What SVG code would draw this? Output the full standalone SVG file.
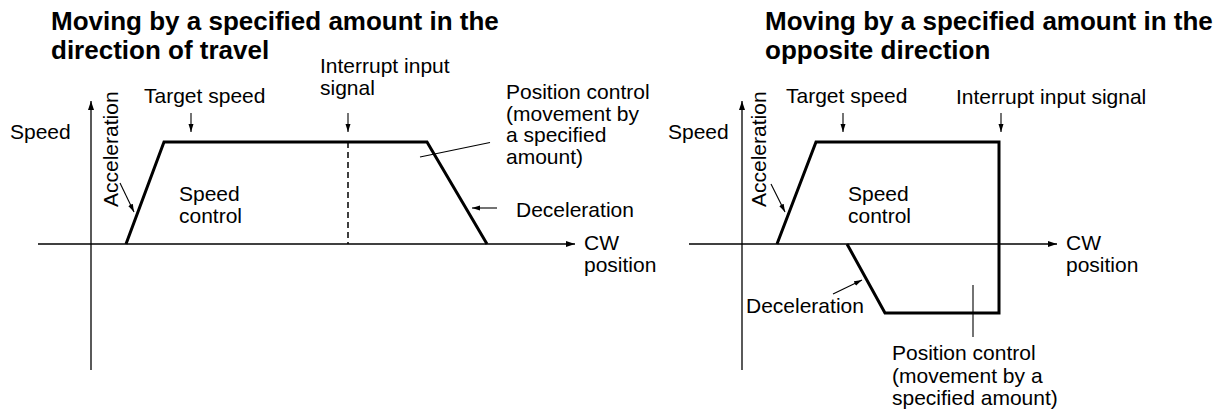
<svg xmlns="http://www.w3.org/2000/svg" width="1227" height="410" viewBox="0 0 1227 410">
<style>
text{font-family:"Liberation Sans",Arial,Helvetica,sans-serif;fill:#000}
.t{font-size:26px;font-weight:bold}
.b{font-size:21px}
.ax{stroke:#000;stroke-width:1.3;fill:none}
.pr{stroke:#000;stroke-width:3;fill:none;stroke-linejoin:miter}
.ld{stroke:#000;stroke-width:1.1;fill:none}
.dash{stroke:#000;stroke-width:1.5;stroke-dasharray:6,4;fill:none}
</style>
<defs>
<marker id="ah" markerUnits="userSpaceOnUse" markerWidth="10" markerHeight="7" refX="9" refY="3" orient="auto">
<path d="M0,0 L9,3 L0,6 z" fill="#000"/>
</marker>
<marker id="sh" markerUnits="userSpaceOnUse" markerWidth="9" markerHeight="6" refX="8" refY="2.5" orient="auto">
<path d="M0,0 L8,2.5 L0,5 z" fill="#000"/>
</marker>
</defs>

<g id="title-left"><text class="t" x="51" y="29.5">Moving by a specified amount in the</text><text class="t" x="51" y="59">direction of travel</text></g>
<g id="title-right"><text class="t" x="765" y="29.5">Moving by a specified amount in the</text><text class="t" x="765" y="59">opposite direction</text></g>

<g id="axes-left">
<line class="ax" x1="91" y1="370" x2="91" y2="101" marker-end="url(#ah)"/>
<line class="ax" x1="38" y1="244" x2="575" y2="244" marker-end="url(#ah)"/>
<text class="b" x="10" y="139">Speed</text>
<text class="b" x="584" y="250">CW</text><text class="b" x="584" y="272">position</text>
</g>
<g id="profile-left">
<polyline class="pr" points="126,244 164,142 427,142 487,244"/>
<line class="dash" x1="348" y1="142" x2="348" y2="244"/>
</g>
<g id="labels-left">
<text class="b" transform="translate(118,207) rotate(-90)">Acceleration</text>
<text class="b" x="144" y="103">Target speed</text>
<text class="b" x="320" y="73">Interrupt input</text><text class="b" x="320" y="95">signal</text>
<text class="b" x="179" y="201">Speed</text><text class="b" x="179" y="223">control</text>
<text class="b" x="506" y="99">Position control</text><text class="b" x="506" y="120.5">(movement by</text><text class="b" x="506" y="142">a specified</text><text class="b" x="506" y="163.5">amount)</text>
<text class="b" x="516" y="217">Deceleration</text>
</g>

<g id="axes-right">
<line class="ax" x1="742" y1="370" x2="742" y2="101" marker-end="url(#ah)"/>
<line class="ax" x1="689" y1="244" x2="1057" y2="244" marker-end="url(#ah)"/>
<text class="b" x="668" y="139">Speed</text>
<text class="b" x="1066" y="250">CW</text><text class="b" x="1066" y="272">position</text>
</g>
<g id="profile-right">
<polyline class="pr" points="777,244 816,142 999,142 999,313 885,313 847,244"/>
</g>
<g id="labels-right">
<text class="b" transform="translate(766,207) rotate(-90)">Acceleration</text>
<text class="b" x="786" y="103">Target speed</text>
<text class="b" x="956" y="104">Interrupt input signal</text>
<text class="b" x="848" y="201">Speed</text><text class="b" x="848" y="223">control</text>
<text class="b" x="746" y="313">Deceleration</text>
<text class="b" x="892" y="360">Position control</text><text class="b" x="892" y="383">(movement by a</text><text class="b" x="892" y="405">specified amount)</text>
</g>

<g id="connectors">
<line class="ld" x1="191" y1="113" x2="191" y2="132" marker-end="url(#sh)"/>
<line class="ld" x1="348" y1="113" x2="348" y2="132" marker-end="url(#sh)"/>
<line class="ld" x1="120" y1="183" x2="134" y2="212" marker-end="url(#sh)"/>
<line class="ld" x1="420" y1="157" x2="490" y2="142.5"/>
<line class="ld" x1="497" y1="208" x2="472" y2="208" marker-end="url(#sh)"/>
<line class="ld" x1="843" y1="113" x2="843" y2="132" marker-end="url(#sh)"/>
<line class="ld" x1="1001" y1="113" x2="1001" y2="132" marker-end="url(#sh)"/>
<line class="ld" x1="771" y1="184" x2="785" y2="212" marker-end="url(#sh)"/>
<line class="ld" x1="833" y1="294" x2="862" y2="280" marker-end="url(#sh)"/>
<line class="ld" x1="973" y1="285" x2="973" y2="337"/>
</g>
</svg>
